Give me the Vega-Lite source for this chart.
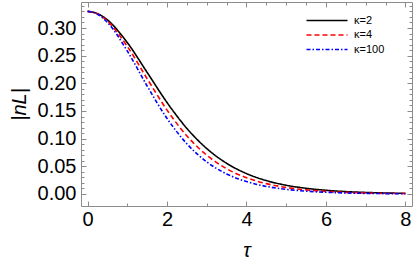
{
  "$schema": "https://vega.github.io/schema/vega-lite/v6.json",
  "width": 331,
  "height": 204,
  "autosize": {"type": "none"},
  "padding": {"left": 81, "top": 2, "right": 3, "bottom": 59},
  "background": "white",
  "config": {
    "view": {"stroke": "#8c8c8c", "strokeWidth": 1},
    "font": "Liberation Sans",
    "axis": {"grid": false, "domain": false, "tickColor": "#8c8c8c", "labelColor": "black", "titleColor": "black", "labelFont": "Liberation Sans", "titleFont": "Liberation Sans"}
  },
  "data": {
    "values": [
      {"tau": 0, "v": 0.330, "k": "κ=2"},
      {"tau": 0.25, "v": 0.3260, "k": "κ=2"},
      {"tau": 0.5, "v": 0.3145, "k": "κ=2"},
      {"tau": 1, "v": 0.2735, "k": "κ=2"},
      {"tau": 1.5, "v": 0.2196, "k": "κ=2"},
      {"tau": 2, "v": 0.1653, "k": "κ=2"},
      {"tau": 2.5, "v": 0.1185, "k": "κ=2"},
      {"tau": 3, "v": 0.0821, "k": "κ=2"},
      {"tau": 3.5, "v": 0.0555, "k": "κ=2"},
      {"tau": 4, "v": 0.0369, "k": "κ=2"},
      {"tau": 4.5, "v": 0.0242, "k": "κ=2"},
      {"tau": 5, "v": 0.0158, "k": "κ=2"},
      {"tau": 5.5, "v": 0.0103, "k": "κ=2"},
      {"tau": 6, "v": 0.0067, "k": "κ=2"},
      {"tau": 6.5, "v": 0.0043, "k": "κ=2"},
      {"tau": 7, "v": 0.0028, "k": "κ=2"},
      {"tau": 7.5, "v": 0.0018, "k": "κ=2"},
      {"tau": 8, "v": 0.0012, "k": "κ=2"},
      {"tau": 0, "v": 0.330, "k": "κ=4"},
      {"tau": 0.25, "v": 0.3255, "k": "κ=4"},
      {"tau": 0.5, "v": 0.3124, "k": "κ=4"},
      {"tau": 1, "v": 0.2666, "k": "κ=4"},
      {"tau": 1.5, "v": 0.2082, "k": "κ=4"},
      {"tau": 2, "v": 0.1516, "k": "κ=4"},
      {"tau": 2.5, "v": 0.1049, "k": "κ=4"},
      {"tau": 3, "v": 0.0701, "k": "κ=4"},
      {"tau": 3.5, "v": 0.0457, "k": "κ=4"},
      {"tau": 4, "v": 0.0294, "k": "κ=4"},
      {"tau": 4.5, "v": 0.0187, "k": "κ=4"},
      {"tau": 5, "v": 0.0118, "k": "κ=4"},
      {"tau": 5.5, "v": 0.0074, "k": "κ=4"},
      {"tau": 6, "v": 0.0047, "k": "κ=4"},
      {"tau": 6.5, "v": 0.0029, "k": "κ=4"},
      {"tau": 7, "v": 0.0018, "k": "κ=4"},
      {"tau": 7.5, "v": 0.0011, "k": "κ=4"},
      {"tau": 8, "v": 0.0007, "k": "κ=4"},
      {"tau": 0, "v": 0.330, "k": "κ=100"},
      {"tau": 0.25, "v": 0.3248, "k": "κ=100"},
      {"tau": 0.5, "v": 0.3098, "k": "κ=100"},
      {"tau": 1, "v": 0.2583, "k": "κ=100"},
      {"tau": 1.5, "v": 0.1950, "k": "κ=100"},
      {"tau": 2, "v": 0.1365, "k": "κ=100"},
      {"tau": 2.5, "v": 0.0906, "k": "κ=100"},
      {"tau": 3, "v": 0.0580, "k": "κ=100"},
      {"tau": 3.5, "v": 0.0363, "k": "κ=100"},
      {"tau": 4, "v": 0.0224, "k": "κ=100"},
      {"tau": 4.5, "v": 0.0137, "k": "κ=100"},
      {"tau": 5, "v": 0.0084, "k": "κ=100"},
      {"tau": 5.5, "v": 0.0051, "k": "κ=100"},
      {"tau": 6, "v": 0.0031, "k": "κ=100"},
      {"tau": 6.5, "v": 0.0019, "k": "κ=100"},
      {"tau": 7, "v": 0.0011, "k": "κ=100"},
      {"tau": 7.5, "v": 0.0007, "k": "κ=100"},
      {"tau": 8, "v": 0.0004, "k": "κ=100"}
    ]
  },
  "layer": [
    {
      "mark": {"type": "line", "interpolate": "monotone", "strokeWidth": 1.6},
      "encoding": {
        "x": {
          "field": "tau", "type": "quantitative",
          "scale": {"domain": [-0.1667, 8.1667], "nice": false, "zero": false},
          "axis": {
            "orient": "bottom",
            "values": [0, 0.5, 1, 1.5, 2, 2.5, 3, 3.5, 4, 4.5, 5, 5.5, 6, 6.5, 7, 7.5, 8],
            "format": "d",
            "labelExpr": "datum.value % 2 === 0 ? datum.label : ''",
            "tickSize": {"condition": {"test": "datum.value % 2 === 0", "value": -5}, "value": -3},
            "labelFontSize": 20,
            "labelPadding": 8,
            "title": "τ",
            "titleFontSize": 20,
            "titleFontStyle": "italic",
            "titleFontWeight": "normal",
            "titlePadding": 11
          }
        },
        "y": {
          "field": "v", "type": "quantitative",
          "scale": {"domain": [-0.0217, 0.347], "nice": false, "zero": false},
          "axis": {
            "orient": "left",
            "values": [0, 0.01, 0.02, 0.03, 0.04, 0.05, 0.06, 0.07, 0.08, 0.09, 0.1, 0.11, 0.12, 0.13, 0.14, 0.15, 0.16, 0.17, 0.18, 0.19, 0.2, 0.21, 0.22, 0.23, 0.24, 0.25, 0.26, 0.27, 0.28, 0.29, 0.3, 0.31, 0.32, 0.33, 0.34],
            "format": ".2f",
            "labelExpr": "abs(round(datum.value*100) % 5) == 0 ? datum.label : ''",
            "tickSize": {"condition": {"test": "abs(round(datum.value*100) % 5) == 0", "value": -5}, "value": -3},
            "labelFontSize": 20,
            "labelPadding": 10,
            "title": "|nL|",
            "titleFontSize": 20,
            "titleFontStyle": "italic",
            "titleFontWeight": "normal",
            "titlePadding": 8
          }
        },
        "color": {
          "field": "k", "type": "nominal",
          "scale": {"domain": ["κ=2", "κ=4", "κ=100"], "range": ["#000000", "#ff0000", "#0000ff"]},
          "legend": {
            "title": null,
            "orient": "none",
            "legendX": 240,
            "legendY": 12.5,
            "padding": 0,
            "symbolType": "M-4,0H4",
            "symbolSize": 105,
            "symbolStrokeWidth": 1.6,
            "labelFontSize": 11,
            "labelOffset": 21,
            "rowPadding": 3.5
          }
        },
        "strokeDash": {
          "field": "k", "type": "nominal",
          "scale": {"domain": ["κ=2", "κ=4", "κ=100"], "range": [[1, 0], [5, 3], [4, 2, 1.5, 2]]},
          "legend": null
        }
      }
    },
    {
      "mark": {"type": "line", "opacity": 0},
      "encoding": {
        "detail": {"field": "k"},
        "x": {
          "field": "tau", "type": "quantitative",
          "axis": {
            "orient": "top",
            "values": [0, 0.5, 1, 1.5, 2, 2.5, 3, 3.5, 4, 4.5, 5, 5.5, 6, 6.5, 7, 7.5, 8],
            "labels": false,
            "title": null,
            "tickSize": {"condition": {"test": "datum.value % 2 === 0", "value": -5}, "value": -3}
          }
        },
        "y": {
          "field": "v", "type": "quantitative",
          "axis": {
            "orient": "right",
            "values": [0, 0.01, 0.02, 0.03, 0.04, 0.05, 0.06, 0.07, 0.08, 0.09, 0.1, 0.11, 0.12, 0.13, 0.14, 0.15, 0.16, 0.17, 0.18, 0.19, 0.2, 0.21, 0.22, 0.23, 0.24, 0.25, 0.26, 0.27, 0.28, 0.29, 0.3, 0.31, 0.32, 0.33, 0.34],
            "labels": false,
            "title": null,
            "tickSize": {"condition": {"test": "abs(round(datum.value*100) % 5) == 0", "value": -5}, "value": -3}
          }
        }
      }
    }
  ],
  "resolve": {"axis": {"x": "independent", "y": "independent"}}
}
